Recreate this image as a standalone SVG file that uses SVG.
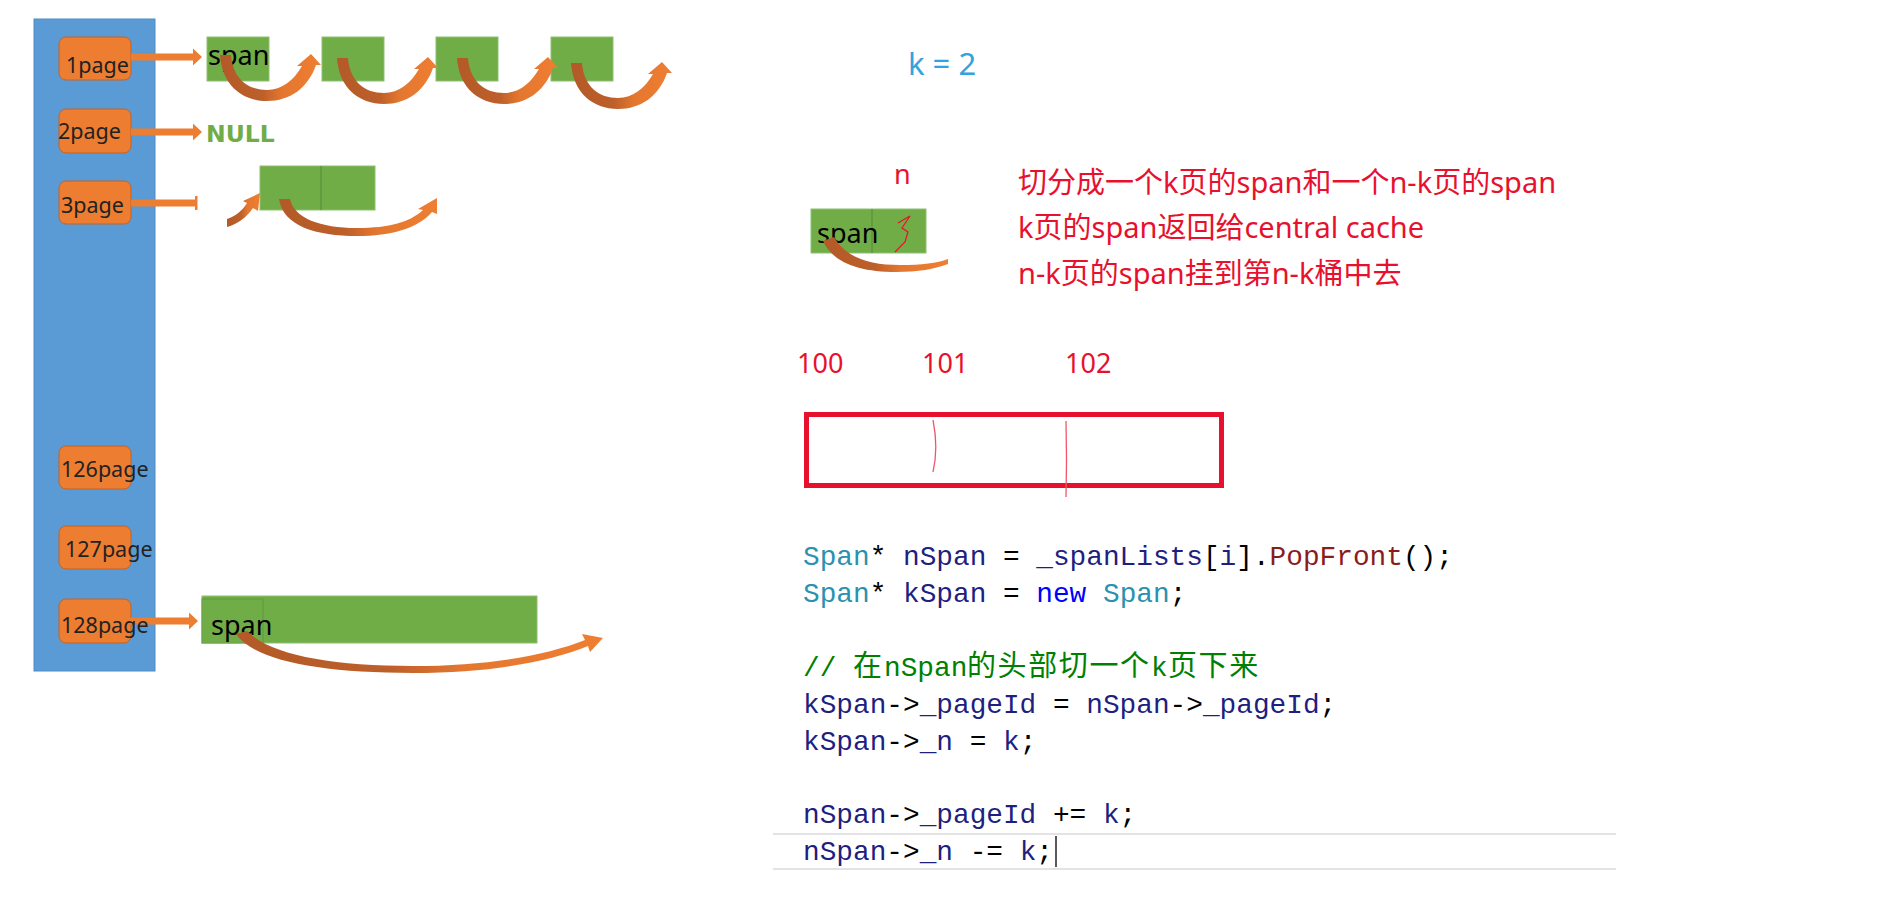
<svg xmlns="http://www.w3.org/2000/svg" width="1904" height="904" viewBox="0 0 1904 904">
<defs>
<linearGradient id="cg" x1="0" y1="0" x2="1" y2="0">
<stop offset="0" stop-color="#b35a28"/>
<stop offset="0.42" stop-color="#bd5f2a"/>
<stop offset="0.62" stop-color="#e4772f"/>
<stop offset="1" stop-color="#ee7e32"/>
</linearGradient>
<path id="loop" d="M0,0 L11,0 C13,24 28,35 47,35 C62,35 74,25 82,11 L77,11 L91,-1 L101,10 L96,10 C88,33 70,46 47,46 C22,46 2,30 0,0 Z"/>
</defs>
<style>
.bucket{fill:#ed7d31;stroke:#c0632a;stroke-width:1}
.blabel{font-family:"Noto Sans","Liberation Sans",sans-serif;font-size:21.5px;fill:#222}
.span{fill:#70ad47;stroke:#8fbf73;stroke-width:1}
.div{stroke:#5a913a;stroke-width:1.2}
.spantxt{font-family:"Noto Sans","Liberation Sans",sans-serif;font-size:27px;fill:#000}
.arrow{fill:#ed7d31}
.curve{fill:url(#cg)}
.red{font-family:"Noto Sans","Noto Sans CJK SC",sans-serif;fill:#e8112d}
.code{font-family:"Liberation Mono","Noto Sans CJK SC",monospace;font-size:27.77px;white-space:pre;fill:#000}
.ty{fill:#2b91af}.id{fill:#1f1f80}.kw{fill:#0000ff}.fn{fill:#8a1c1c}.cm{fill:#008000}
.cjk{font-family:"Noto Sans CJK SC",sans-serif;font-size:29px}
</style>
<rect width="1904" height="904" fill="#fff"/>

<g id="bucket-column">
<rect x="34" y="19" width="121" height="652" fill="#5b9bd5" stroke="#4f8bc4" stroke-width="1"/>
</g>

<g id="bucket-1page">
<rect class="bucket" x="59" y="37" width="72" height="43" rx="7"/>
</g>
<g id="bucket-2page">
<rect class="bucket" x="59" y="109" width="72" height="44" rx="7"/>
</g>
<g id="bucket-3page">
<rect class="bucket" x="59" y="181" width="72" height="43" rx="7"/>
</g>
<g id="bucket-126page">
<rect class="bucket" x="59" y="446" width="72" height="43" rx="7"/>
</g>
<g id="bucket-127page">
<rect class="bucket" x="59" y="526" width="72" height="43" rx="7"/>
</g>
<g id="bucket-128page">
<rect class="bucket" x="59" y="599" width="72" height="44" rx="7"/>
</g>

<g id="spans-row1">
<rect class="span" x="207" y="37" width="62" height="44"/>
<rect class="span" x="322" y="37" width="62" height="44"/>
<rect class="span" x="436" y="37" width="62" height="44"/>
<rect class="span" x="551" y="37" width="62" height="44"/>
<text class="spantxt" x="208" y="65">span</text>
</g>

<g id="null-2page">
<text x="206" y="142" font-family="DejaVu Sans" font-weight="bold" font-size="23.5" fill="#70ad47">NULL</text>
</g>

<g id="spans-row3">
<rect class="span" x="260" y="166" width="115" height="44"/>
<line class="div" x1="321" y1="166" x2="321" y2="210"/>
</g>

<g id="span-128">
<rect class="span" x="202" y="596" width="335" height="47"/>
<rect x="202" y="599" width="61" height="44" fill="none" stroke="#5f9a3d" stroke-width="1"/>
<text class="spantxt" x="211" y="635">span</text>
</g>

<g id="connectors">
<path class="arrow" d="M131,53.5 H193 V48.5 L202,57 L193,65.5 V60.5 H131 Z"/>
<path class="arrow" d="M131,128.5 H193 V123.5 L202,132 L193,140.5 V135.5 H131 Z"/>
<rect class="arrow" x="131" y="199.5" width="64" height="7"/>
<rect class="arrow" x="195" y="196" width="2.5" height="14"/>
<path class="arrow" d="M125,617.5 H189 V612.5 L198,621 L189,629.5 V624.5 H125 Z"/>
<use href="#loop" class="curve" transform="translate(220,55)"/>
<use href="#loop" class="curve" transform="translate(337,58)"/>
<use href="#loop" class="curve" transform="translate(457,58)"/>
<use href="#loop" class="curve" transform="translate(571,63)"/>
<path class="curve" d="M227,219 C236,216 243,210 247,203 L243,201 L260,193 L258,211 L253,208 C247,217 238,224 227,227 Z"/>
<path class="curve" d="M279,199 L290,199 C294,218 320,228 357,228 C390,228 410,222 423,210 L418,209 L437,198 L437,214 L432,212 C418,228 392,236 357,236 C316,236 283,226 279,199 Z"/>
<path class="curve" d="M236,634 L247,631 C270,655 330,666 413,666 C485,666 545,656 585,640 L582,634 L603,638 L590,652 L588,646 C548,662 490,673 413,673 C320,673 255,661 236,634 Z"/>
</g>

<g id="bucket-labels">
<text class="blabel" x="66" y="73">1page</text>
<text class="blabel" x="58" y="139">2page</text>
<text class="blabel" x="61" y="213">3page</text>
<text class="blabel" x="61" y="477">126page</text>
<text class="blabel" x="65" y="557">127page</text>
<text class="blabel" x="61" y="633">128page</text>
</g>

<g id="k-label">
<text x="908" y="75" font-family="Noto Sans, sans-serif" font-size="31" fill="#2ea4e0">k = 2</text>
</g>

<g id="n-span">
<text class="red" x="894" y="184" font-size="27">n</text>
<rect class="span" x="811" y="209" width="115" height="44"/>
<line class="div" x1="872" y1="209" x2="872" y2="253"/>
<text class="spantxt" x="817" y="243">span</text>
<path d="M898,223 L910,216 L902,228 L908,232 L905,242 L895,252" fill="none" stroke="#e8112d" stroke-width="1.2"/>
<path class="curve" d="M823,241 L834,237 C846,258 870,265 900,265 C922,265 937,263 948,259 L948,264 C935,269 918,272 896,272 C860,272 833,263 823,241 Z"/>
</g>

<g id="explanation">
<text class="red" x="1018" y="193" font-size="29">切分成一个k页的span和一个n-k页的span</text>
<text class="red" x="1018" y="238" font-size="29">k页的span返回给central cache</text>
<text class="red" x="1018" y="284" font-size="29">n-k页的span挂到第n-k桶中去</text>
</g>

<g id="page-range">
<text class="red" x="797" y="373" font-size="27">100</text>
<text class="red" x="922" y="373" font-size="27">101</text>
<text class="red" x="1065" y="373" font-size="27">102</text>
<rect x="806.5" y="414.5" width="415" height="71" fill="none" stroke="#e8112d" stroke-width="5"/>
<path d="M933,420 C936,435 937,455 933,472" fill="none" stroke="#f0566a" stroke-width="1.3"/>
<path d="M1066,421 L1066.5,460 L1066,497" fill="none" stroke="#f0566a" stroke-width="1.3"/>
</g>

<g id="code">
<line x1="773" y1="834" x2="1616" y2="834" stroke="#e3e3e6" stroke-width="2"/>
<line x1="773" y1="869" x2="1616" y2="869" stroke="#e3e3e6" stroke-width="2"/>
<text class="code" x="803" y="565"><tspan class="ty">Span</tspan>* <tspan class="id">nSpan</tspan> = <tspan class="id">_spanLists</tspan>[<tspan class="id">i</tspan>].<tspan class="fn">PopFront</tspan>();</text>
<text class="code" x="803" y="602"><tspan class="ty">Span</tspan>* <tspan class="id">kSpan</tspan> = <tspan class="kw">new</tspan> <tspan class="ty">Span</tspan>;</text>
<text class="code cm" x="803" y="676">// <tspan class="cjk" x="853">在</tspan><tspan x="884">nSpan</tspan><tspan class="cjk" x="967" letter-spacing="1.6">的头部切一个</tspan><tspan x="1151">k</tspan><tspan class="cjk" x="1168" letter-spacing="1.6">页下来</tspan></text>
<text class="code" x="803" y="713"><tspan class="id">kSpan</tspan>-&gt;<tspan class="id">_pageId</tspan> = <tspan class="id">nSpan</tspan>-&gt;<tspan class="id">_pageId</tspan>;</text>
<text class="code" x="803" y="750"><tspan class="id">kSpan</tspan>-&gt;<tspan class="id">_n</tspan> = <tspan class="id">k</tspan>;</text>
<text class="code" x="803" y="823"><tspan class="id">nSpan</tspan>-&gt;<tspan class="id">_pageId</tspan> += <tspan class="id">k</tspan>;</text>
<text class="code" x="803" y="860"><tspan class="id">nSpan</tspan>-&gt;<tspan class="id">_n</tspan> -= <tspan class="id">k</tspan>;</text>
<line x1="1056" y1="836" x2="1056" y2="867" stroke="#000" stroke-width="1.3"/>
</g>
</svg>
